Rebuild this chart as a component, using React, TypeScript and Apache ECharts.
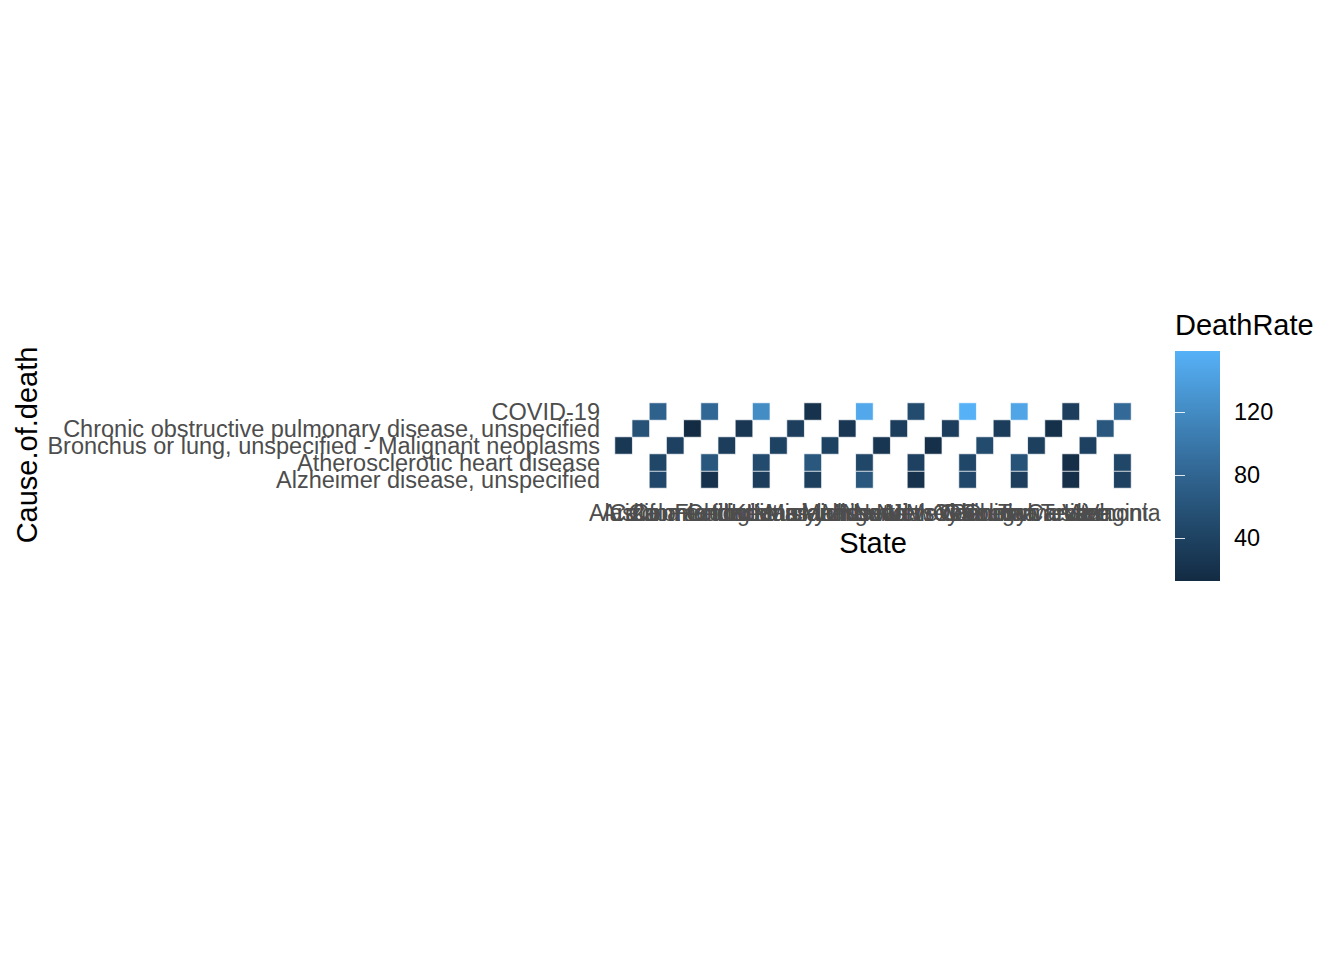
import React, { useEffect, useRef } from "react";
import * as echarts from "echarts";

const states = [
  "Alaska", "Arizona", "California", "Colorado", "Connecticut", "Florida",
  "Georgia", "Illinois", "Indiana", "Kentucky", "Louisiana", "Maryland",
  "Massachusetts", "Michigan", "Missouri", "Nevada", "New Jersey", "New Mexico",
  "New York", "North Carolina", "Ohio", "Oklahoma", "Oregon", "Pennsylvania",
  "South Carolina", "Tennessee", "Texas", "Utah", "Vermont", "Virginia",
];

// bottom to top
const causes = [
  "Alzheimer disease, unspecified",
  "Atherosclerotic heart disease",
  "Bronchus or lung, unspecified - Malignant neoplasms",
  "Chronic obstructive pulmonary disease, unspecified",
  "COVID-19",
];

const _ = null;
const alzheimer = [_, _, 47, _, _, 21, _, _, 34, _, _, 37, _, _, 64, _, _, 21, _, _, 47, _, _, 36, _, _, 19, _, _, 39];
const atherosclerotic = [_, _, 46, _, _, 64, _, _, 50, _, _, 64, _, _, 46, _, _, 39, _, _, 46, _, _, 60, _, _, 17, _, _, 46];
const bronchus = [28, _, _, 39, _, _, 34, _, _, 40, _, _, 40, _, _, 26, _, _, 19, _, _, 50, _, _, 37, _, _, 39, _, _];
const chronic = [_, 58, _, _, 12.7, _, _, 27, _, _, 36, _, _, 27, _, _, 34, _, _, 34, _, _, 33, _, _, 18, _, _, 64, _];
const covid = [_, _, 76, _, _, 82, _, _, 121, _, _, 21, _, _, 150, _, _, 50, _, _, 158.7, _, _, 147, _, _, 36, _, _, 84];

const colorStops = ["#132B43", "#224A6C", "#336A98", "#448DC6", "#56B1F7"];
const legendTicks = [40, 80, 120];

export default function App() {
  const ref = useRef<HTMLDivElement>(null);

  useEffect(() => {
    if (!ref.current) return;
    const chart = echarts.init(ref.current, null, { renderer: "svg" });
    const rows = [alzheimer, atherosclerotic, bronchus, chronic, covid];
    const data: number[][] = [];
    rows.forEach((row, y) =>
      row.forEach((v, x) => {
        if (v !== null) data.push([x, y, v as number]);
      })
    );
    const vals = data.map((d) => d[2]);
    const vmin = Math.min(...vals);
    const vmax = Math.max(...vals);
    const font = "'Liberation Sans', Arial, Helvetica, sans-serif";

    const option: any = {
      animation: false,
      backgroundColor: "#ffffff",
      textStyle: { fontFamily: font },
      grid: [
        { left: 615, top: 403, width: 516, height: 85, containLabel: false },
        { left: 1175, top: 351, width: 45, height: 230, containLabel: false },
      ],
      xAxis: [
        {
          type: "category",
          gridIndex: 0,
          data: states,
          axisLine: { show: false },
          axisTick: { show: false },
          splitLine: { show: false },
          axisLabel: {
            interval: 0,
            hideOverlap: false,
            color: "#4d4d4d",
            fontSize: 23,
            fontFamily: font,
            margin: 13,
          },
        },
        { type: "value", gridIndex: 1, min: 0, max: 1, show: false },
      ],
      yAxis: [
        {
          type: "category",
          gridIndex: 0,
          data: causes,
          axisLine: { show: false },
          axisTick: { show: false },
          splitLine: { show: false },
          axisLabel: {
            interval: 0,
            hideOverlap: false,
            color: "#4d4d4d",
            fontSize: 23.5,
            fontFamily: font,
            margin: 15,
          },
        },
        {
          type: "value",
          gridIndex: 1,
          min: vmin,
          max: vmax,
          position: "right",
          z: 10,
          axisLine: { show: false },
          splitLine: { show: false },
          axisTick: {
            show: true,
            inside: true,
            length: 10,
            customValues: legendTicks,
            lineStyle: { color: "rgba(255,255,255,0.85)", width: 1 },
          },
          axisLabel: {
            customValues: legendTicks,
            color: "#000000",
            fontSize: 23.5,
            fontFamily: font,
            margin: 14,
          },
        },
        {
          type: "value",
          gridIndex: 1,
          min: vmin,
          max: vmax,
          position: "left",
          z: 10,
          axisLine: { show: false },
          splitLine: { show: false },
          axisTick: {
            show: true,
            inside: true,
            length: 10,
            customValues: legendTicks,
            lineStyle: { color: "rgba(255,255,255,0.85)", width: 1 },
          },
          axisLabel: { show: false },
        },
      ],
      visualMap: {
        type: "continuous",
        show: false,
        seriesIndex: 0,
        dimension: 2,
        min: vmin,
        max: vmax,
        inRange: { color: colorStops },
      },
      series: [
        {
          type: "heatmap",
          xAxisIndex: 0,
          yAxisIndex: 0,
          data,
          itemStyle: { borderColor: "rgba(255,255,255,0.75)", borderWidth: 1 },
          emphasis: { disabled: true },
        },
        {
          type: "custom",
          xAxisIndex: 1,
          yAxisIndex: 1,
          silent: true,
          z: 1,
          data: [[0, vmin]],
          renderItem: (params: any) => {
            const cs = params.coordSys;
            return {
              type: "rect",
              shape: { x: cs.x, y: cs.y, width: cs.width, height: cs.height },
              style: {
                fill: new echarts.graphic.LinearGradient(
                  0, 1, 0, 0,
                  colorStops.map((c, i) => ({ offset: i / (colorStops.length - 1), color: c }))
                ),
              },
            };
          },
        },
      ],
      graphic: [
        {
          type: "text",
          x: 873,
          y: 543,
          style: {
            text: "State",
            fontSize: 29,
            fontFamily: font,
            fill: "#000000",
            textAlign: "center",
            textVerticalAlign: "middle",
          },
        },
        {
          type: "text",
          x: 27,
          y: 445,
          rotation: Math.PI / 2,
          style: {
            text: "Cause.of.death",
            fontSize: 29,
            fontFamily: font,
            fill: "#000000",
            textAlign: "center",
            textVerticalAlign: "middle",
          },
        },
        {
          type: "text",
          x: 1175,
          y: 325,
          style: {
            text: "DeathRate",
            fontSize: 29,
            fontFamily: font,
            fill: "#000000",
            textAlign: "left",
            textVerticalAlign: "middle",
          },
        },
      ],
    };

    chart.setOption(option);
    return () => chart.dispose();
  }, []);

  return (
    <div
      ref={ref}
      style={{ position: "fixed", left: 0, top: 0, width: 1344, height: 960, background: "#fff" }}
    />
  );
}
